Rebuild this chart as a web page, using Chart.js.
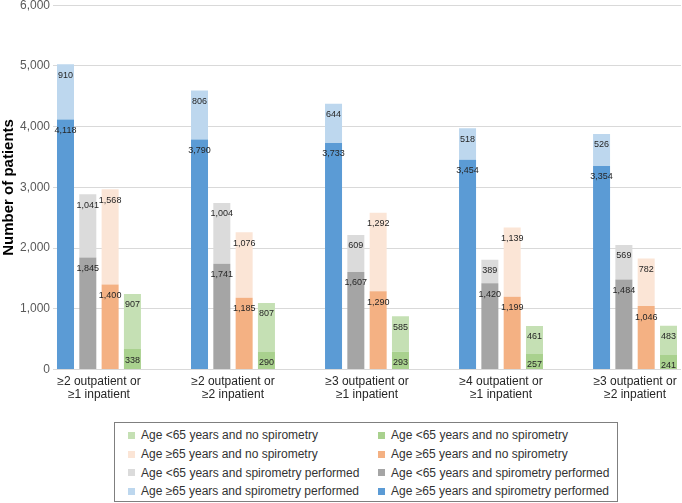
<!DOCTYPE html>
<html lang="en">
<head>
    <meta charset="UTF-8">
    <title>Patients by spirometry and age</title>
    <script src="https://cdn.jsdelivr.net/npm/chart.js"></script>
    <style>
        body { margin: 0; background: #fff; font-family: "Liberation Sans", Arial, sans-serif; }
        #wrap { position: absolute; left: 0; top: -5px; width: 682px; height: 411px; }
        #legend {
            position: absolute; left: 114px; top: 422px; width: 504px; height: 80px;
            border: 1px solid #7f7f7f; box-sizing: border-box;
            display: grid; grid-template-columns: 250px 240px; grid-auto-rows: 18.7px;
            padding: 3px 0 0 13px; font-size: 12px; color: #333;
        }
        .item { display: flex; align-items: center; white-space: nowrap; }
        .box { width: 7px; height: 7px; margin-right: 6px; }
    </style>
</head>
<body>
    <div id="wrap"><canvas id="chart"></canvas></div>
    <div id="legend"></div>

    <script>
        const categories = [
            ['≥2 outpatient or', '≥1 inpatient'],
            ['≥2 outpatient or', '≥2 inpatient'],
            ['≥3 outpatient or', '≥1 inpatient'],
            ['≥4 outpatient or', '≥1 inpatient'],
            ['≥3 outpatient or', '≥2 inpatient']
        ];
        // lower (solid) and upper (light) parts of each bar
        const blueDark = [4118, 3790, 3733, 3454, 3354];
        const blueLight = [910, 806, 644, 518, 526];
        const grayDark = [1845, 1741, 1607, 1420, 1484];
        const grayLight = [1041, 1004, 609, 389, 569];
        const orangeDark = [1400, 1185, 1290, 1199, 1046];
        const orangeLight = [1568, 1076, 1292, 1139, 782];
        const greenDark = [338, 290, 293, 257, 241];
        const greenLight = [907, 807, 585, 461, 483];

        const lblGreen = 'Age <65 years and no spirometry';
        const lblOrange = 'Age ≥65 years and no spirometry';
        const lblGray = 'Age <65 years and spirometry performed';
        const lblBlue = 'Age ≥65 years and spirometry performed';

        const pts = arr => arr.map((v, i) => ({ x: i, y: v }));

        const datasets = [
            { label: lblBlue, data: pts(blueDark), stack: 'blue', backgroundColor: '#5b9bd5' },
            { label: lblBlue, data: pts(blueLight), stack: 'blue', backgroundColor: '#bdd7ee' },
            { label: lblGray, data: pts(grayDark), stack: 'gray', backgroundColor: '#a5a5a5' },
            { label: lblGray, data: pts(grayLight), stack: 'gray', backgroundColor: '#dbdbdb' },
            { label: lblOrange, data: pts(orangeDark), stack: 'orange', backgroundColor: '#f4b183' },
            { label: lblOrange, data: pts(orangeLight), stack: 'orange', backgroundColor: '#fbe5d6' },
            { label: lblGreen, data: pts(greenDark), stack: 'green', backgroundColor: '#a9d18e' },
            { label: lblGreen, data: pts(greenLight), stack: 'green', backgroundColor: '#c5e0b4' }
        ];

        const barLabels = {
            id: 'barLabels',
            afterDatasetsDraw(chart) {
                const ctx = chart.ctx;
                ctx.save();
                ctx.font = '9px "Liberation Sans", Arial, sans-serif';
                ctx.fillStyle = '#262626';
                ctx.textAlign = 'center';
                ctx.textBaseline = 'middle';
                chart.data.datasets.forEach((ds, i) => {
                    chart.getDatasetMeta(i).data.forEach((bar, j) => {
                        ctx.fillText(ds.data[j].y.toLocaleString('en-US'), bar.x, bar.y + 11);
                    });
                });
                ctx.restore();
            }
        };

        new Chart(document.getElementById('chart'), {
            type: 'bar',
            data: { datasets: datasets },
            plugins: [barLabels],
            options: {
                responsive: true,
                maintainAspectRatio: false,
                animation: false,
                layout: { padding: { top: 0, right: 1, bottom: 0, left: 0 } },
                categoryPercentage: 0.666,
                barPercentage: 0.762,
                plugins: { legend: { display: false }, tooltip: { enabled: false } },
                scales: {
                    x: {
                        type: 'linear',
                        offset: false,
                        min: -0.343,
                        max: 4.343,
                        grid: { display: false, drawTicks: false },
                        border: { display: false },
                        ticks: {
                            stepSize: 1,
                            includeBounds: false,
                            autoSkip: false,
                            maxRotation: 0,
                            padding: 5,
                            color: '#262626',
                            font: { size: 12, lineHeight: 1.1, family: '"Liberation Sans", Arial, sans-serif' },
                            callback: v => Number.isInteger(v) && categories[v] ? categories[v] : ''
                        }
                    },
                    y: {
                        stacked: true,
                        min: 0,
                        max: 6000,
                        afterFit(scale) { scale.width = 53; },
                        grid: { color: '#d9d9d9', drawTicks: false },
                        border: { display: false },
                        ticks: {
                            stepSize: 1000,
                            padding: 3,
                            color: '#595959',
                            font: { size: 12, family: '"Liberation Sans", Arial, sans-serif' },
                            callback: v => v.toLocaleString('en-US')
                        },
                        title: {
                            display: true,
                            text: 'Number of patients',
                            color: '#000',
                            padding: 0,
                            font: { size: 15, weight: 'bold', family: '"Liberation Sans", Arial, sans-serif' }
                        }
                    }
                }
            }
        });

        // legend: light parts in the left column, solid parts in the right
        const legendRows = [
            [datasets[7], datasets[6]],
            [datasets[5], datasets[4]],
            [datasets[3], datasets[2]],
            [datasets[1], datasets[0]]
        ];
        const legend = document.getElementById('legend');
        legendRows.flat().forEach(ds => {
            const item = document.createElement('div');
            item.className = 'item';
            const box = document.createElement('span');
            box.className = 'box';
            box.style.background = ds.backgroundColor;
            const txt = document.createElement('span');
            txt.textContent = ds.label;
            item.appendChild(box);
            item.appendChild(txt);
            legend.appendChild(item);
        });
    </script>
</body>
</html>
